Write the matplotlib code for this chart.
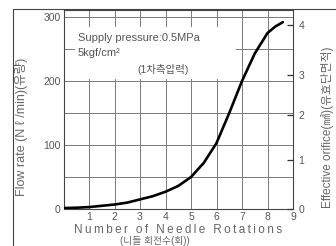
import matplotlib
matplotlib.use("Agg")
import matplotlib.pyplot as plt
from matplotlib.patches import Rectangle

# needle rotations vs flow rate
rotations = [0, 0.5, 1, 1.5, 2, 2.5, 3, 3.5, 4, 4.5, 5, 5.5, 6, 6.5, 7, 7.5, 8, 8.3, 8.6]
flow = [1.5, 2, 3, 5, 7, 10, 15, 20, 27, 36, 50, 72, 103, 150, 200, 243, 275, 285, 292]

left_ticks = [0, 100, 200, 300]
# right axis labels sit at these flow-scale heights
orifice_pos = [0, 77, 147, 209, 287]
orifice_labels = ["0", "1", "2", "3", "4"]

fonts = ["Liberation Sans", "Noto Sans CJK KR"]
gray = "#555555"

fig = plt.figure(figsize=(3.36, 2.46), dpi=100)
ax = fig.add_axes([63.5 / 336, 37 / 246, 229.5 / 336, 199 / 246])
ax.set_xlim(0, 9)
ax.set_ylim(0, 311)

ax.set_xticks(range(1, 10))
ax.set_xticks(range(0, 10), minor=True)
ax.set_yticks(left_ticks)
ax.set_yticks(range(0, 301, 50), minor=True)
ax.grid(which="both", color="#7a7a7a", lw=0.7)
ax.set_axisbelow(True)
ax.tick_params(which="both", length=0, labelsize=7.5, colors=gray, pad=2)
for lab in ax.get_xticklabels() + ax.get_yticklabels():
    lab.set_family(fonts)
for s in ax.spines.values():
    s.set_color("#444444")
    s.set_linewidth(0.8)

ax.plot(rotations, flow, color="black", lw=1.9, zorder=4, solid_capstyle="round")

# white patch behind the note
ax.add_patch(Rectangle((0.05, 0.655), 0.70, 0.26, transform=ax.transAxes,
                       facecolor="white", edgecolor="none", zorder=1))
ax.text(0.063, 0.86, "Supply pressure:0.5MPa", transform=ax.transAxes,
        fontsize=8, color=gray, family=fonts, va="center", zorder=3)
ax.text(0.063, 0.785, "5kgf/cm²", transform=ax.transAxes,
        fontsize=8, color=gray, family=fonts, va="center", zorder=3)
ax.text(0.435, 0.70, "(1차측압력)", transform=ax.transAxes,
        fontsize=7.5, color=gray, family=fonts, va="center", ha="center", zorder=3)

ax2 = ax.twinx()
ax2.set_ylim(ax.get_ylim())
ax2.set_yticks(orifice_pos)
ax2.set_yticklabels(orifice_labels)
ax2.tick_params(direction="in", length=4, width=0.9, color="#333333",
                labelsize=7.5, labelcolor=gray, pad=4)
for lab in ax2.get_yticklabels():
    lab.set_family(fonts)
for s in ax2.spines.values():
    s.set_visible(False)

fig.text(22 / 336, 1 - 127 / 246, "Flow rate (N ℓ /min)(유량)", rotation=90,
         ha="center", va="center", fontsize=9, color="#666666", family=fonts)
fig.text(327 / 336, 1 - 127 / 246, "Effective orifice(㎟)(유효단면적)", rotation=90,
         ha="center", va="center", fontsize=8.5, color="#666666", family=fonts)
spaced = "\u2009".join("Number of Needle Rotations")
fig.text(178 / 336, 1 - 230 / 246, spaced, ha="center", va="center",
         fontsize=8.5, color="#666666", family=fonts)
fig.text(155 / 336, 1 - 241 / 246, "(니들 회전수(회))", ha="center", va="center",
         fontsize=7, color="#666666", family=fonts)

# outer frame of the figure
fig.patches.append(Rectangle((13 / 336, -0.1), 1.2, (1 - 9 / 246) + 0.1,
                             transform=fig.transFigure, facecolor="none",
                             edgecolor="#444444", lw=0.8))

fig.savefig("out.png", dpi=100)
